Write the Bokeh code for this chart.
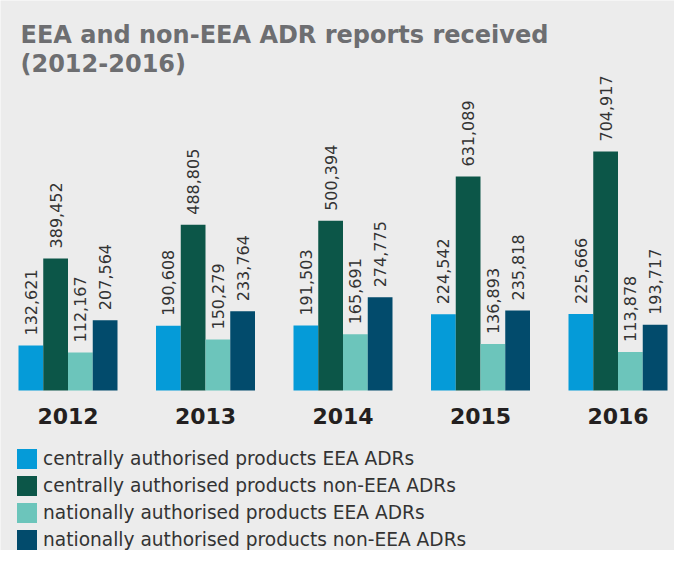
import numpy as np
from bokeh.plotting import figure
from bokeh.models import ColumnDataSource, Label, Range1d
from bokeh.core.properties import value
from bokeh.embed import file_html
from bokeh.resources import INLINE

years = ["2012", "2013", "2014", "2015", "2016"]
central_eea = [132621, 190608, 191503, 224542, 225666]
central_non_eea = [389452, 488805, 500394, 631089, 704917]
national_eea = [112167, 150279, 165691, 136893, 113878]
national_non_eea = [207564, 233764, 274775, 235818, 193717]

series_names = [
    "centrally authorised products EEA ADRs",
    "centrally authorised products non-EEA ADRs",
    "nationally authorised products EEA ADRs",
    "nationally authorised products non-EEA ADRs",
]
series_values = [central_eea, central_non_eea, national_eea, national_non_eea]
colors = ["#059bd8", "#0c5648", "#6cc5bb", "#024b6c"]
offsets = [-0.27, -0.09, 0.09, 0.27]

W, H = 674, 550
px_per_group = 137.5
units_per_px = 704917 / 239.0
x0 = -67.5 / px_per_group
y0 = -(H - 390) * units_per_px

p = figure(width=W, height=H, output_backend="svg", toolbar_location=None,
           x_axis_type=None, y_axis_type=None,
           x_range=Range1d(x0, x0 + W / px_per_group),
           y_range=Range1d(y0, y0 + H * units_per_px),
           min_border=0, background_fill_color="#ececec",
           border_fill_color="#ececec", outline_line_color=None)
p.grid.visible = False

idx = np.arange(len(years))
for name, vals, col, off in zip(series_names, series_values, colors, offsets):
    src = ColumnDataSource(dict(x=idx + off, top=vals,
                                lbl=[f"{v:,}" for v in vals]))
    p.vbar(x="x", top="top", bottom=0, width=0.18, source=src,
           fill_color=col, line_color=None, legend_label=name)
    p.text(x="x", y="top", text="lbl", source=src, angle=np.pi / 2,
           text_align="left", text_baseline="middle", y_offset=-10,
           text_font=value("DejaVu Sans"), text_font_size="16px",
           text_color="#333333")

ysrc = ColumnDataSource(dict(x=idx, y=[0] * len(years), t=years))
p.text(x="x", y="y", text="t", source=ysrc, text_align="center",
       text_baseline="middle", y_offset=25,
       text_font=value("DejaVu Sans"), text_font_size="22px",
       text_font_style="bold", text_color="#231f20")

for txt, ys in [("EEA and non-EEA ADR reports received", 516), ("(2012-2016)", 487)]:
    p.add_layout(Label(x=20, y=ys, x_units="screen", y_units="screen", text=txt,
                       text_font="DejaVu Sans", text_font_size="24px",
                       text_font_style="bold", text_color="#6d6e71",
                       text_baseline="middle"))

lg = p.legend[0]
lg.location = (14, -2)
lg.orientation = "vertical"
lg.glyph_width = 25
lg.glyph_height = 25
lg.label_height = 25
lg.spacing = 2
lg.padding = 0
lg.margin = 0
lg.label_standoff = 4
lg.label_text_font = "DejaVu Sans"
lg.label_text_font_size = "18.6px"
lg.label_text_color = "#333333"
lg.background_fill_alpha = 0
lg.border_line_alpha = 0

open("out.html", "w").write(file_html(p, INLINE))
